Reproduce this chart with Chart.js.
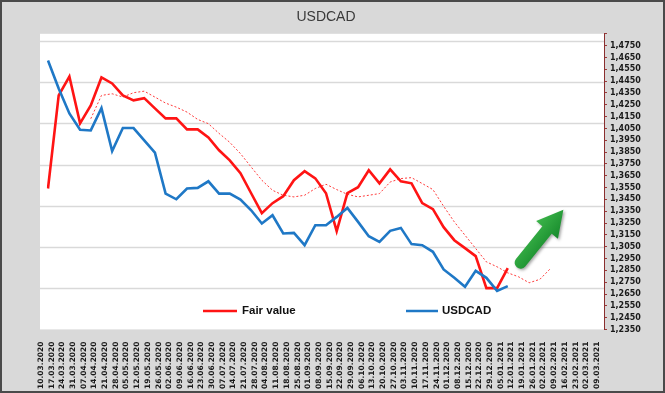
<!DOCTYPE html>
<html>
<head>
<meta charset="utf-8">
<script src="https://cdn.jsdelivr.net/npm/chart.js@4"></script>
<style>
html,body{margin:0;padding:0;background:#d9d9d9;}
canvas{display:block;}
</style>
</head>
<body>
<canvas id="c" width="665" height="393"></canvas>
<script>
const categories = [
  "10.03.2020","17.03.2020","24.03.2020","31.03.2020","07.04.2020","14.04.2020","21.04.2020","28.04.2020",
  "05.05.2020","12.05.2020","19.05.2020","26.05.2020","02.06.2020","09.06.2020","16.06.2020","23.06.2020",
  "30.06.2020","07.07.2020","14.07.2020","21.07.2020","28.07.2020","04.08.2020","11.08.2020","18.08.2020",
  "25.08.2020","01.09.2020","08.09.2020","15.09.2020","22.09.2020","29.09.2020","06.10.2020","13.10.2020",
  "20.10.2020","27.10.2020","03.11.2020","10.11.2020","17.11.2020","24.11.2020","01.12.2020","08.12.2020",
  "15.12.2020","22.12.2020","29.12.2020","05.01.2021","12.01.2021","19.01.2021","26.01.2021","02.02.2021",
  "09.02.2021","16.02.2021","23.02.2021","02.03.2021","09.03.2021"
];

const fairValue = [
  1.3542,1.4329,1.4489,1.4093,1.4245,1.4481,1.4430,1.4329,1.4287,1.4306,
  1.4219,1.4135,1.4135,1.4042,1.4042,1.3974,1.3865,1.3780,1.3671,1.3502,
  1.3333,1.3418,1.3477,1.3612,1.3688,1.3628,1.3502,1.3181,1.3502,1.3553,
  1.3696,1.3586,1.3704,1.3603,1.3586,1.3418,1.3367,1.3215,1.3105,1.3038,
  1.2970,1.2700,1.2700,1.2869
];

const usdcad = [
  1.4624,1.4388,1.4177,1.4039,1.4033,1.4222,1.3859,1.4053,1.4053,1.3949,
  1.3845,1.3499,1.3451,1.3542,1.3547,1.3603,1.3499,1.3499,1.3449,1.3358,
  1.3246,1.3316,1.3162,1.3167,1.3063,1.3232,1.3232,1.3302,1.3378,1.3260,
  1.3139,1.3091,1.3184,1.3209,1.3072,1.3063,1.3007,1.2858,1.2787,1.2711,
  1.2846,1.2787,1.2677,1.2717
];

const fairValueTrend = [
  null,null,null,null,
  1.4132,1.4329,1.4343,1.4315,1.4352,1.4365,1.4315,1.4264,1.4230,1.4188,
  1.4126,1.4090,1.4008,1.3932,1.3837,1.3724,1.3612,1.3527,1.3485,1.3471,
  1.3485,1.3542,1.3578,1.3533,1.3493,1.3471,1.3485,1.3499,1.3597,1.3626,
  1.3634,1.3584,1.3533,1.3392,1.3260,1.3147,1.3035,1.2922,1.2880,1.2829,
  1.2796,1.2745,1.2774,1.2866
];

const yMin = 1.235, yMax = 1.485, yStep = 0.01, yLastLabel = 1.475;
const gridBands = [0, 1, 2, 3, 4, 5, 6, 7];
const trendArrow = { from: [44.2, 1.2915], to: [48.2, 1.3363] };

const decorPlugin = {
  id: 'decor',
  beforeDraw(chart) {
    const { ctx, chartArea: ca, scales } = chart;
    const W = chart.width, H = chart.height;
    ctx.save();
    ctx.fillStyle = '#d9d9d9';
    ctx.fillRect(0, 0, W, H);
    const plotLeft = ca.left - 8;
    ctx.fillStyle = '#ffffff';
    ctx.fillRect(plotLeft, ca.top, ca.right - plotLeft, ca.bottom - ca.top);
    const g = scales.grid;
    ctx.strokeStyle = '#d9d9d9';
    ctx.lineWidth = 1.3;
    gridBands.forEach(v => {
      const y = Math.round(g.getPixelForValue(v)) + 0.5;
      ctx.beginPath();
      ctx.moveTo(plotLeft, y);
      ctx.lineTo(ca.right, y);
      ctx.stroke();
    });
    ctx.strokeStyle = '#4a4a4a';
    ctx.lineWidth = 2;
    ctx.strokeRect(1, 1, W - 2, H - 2);
    ctx.restore();
  },
  afterDatasetsDraw(chart) {
    const { ctx, scales } = chart;
    const xs = scales.x, ys = scales.y;
    // arrow
    const x1 = xs.getPixelForValue(trendArrow.from[0]), y1 = ys.getPixelForValue(trendArrow.from[1]);
    const x2 = xs.getPixelForValue(trendArrow.to[0]), y2 = ys.getPixelForValue(trendArrow.to[1]);
    const ang = Math.atan2(y2 - y1, x2 - x1);
    const len = Math.hypot(x2 - x1, y2 - y1);
    const shaft = 12, headW = 28, headL = 26;
    ctx.save();
    ctx.translate(x1, y1);
    ctx.rotate(ang);
    ctx.shadowColor = 'rgba(0,0,0,0.35)';
    ctx.shadowBlur = 3;
    ctx.shadowOffsetX = 1.5;
    ctx.shadowOffsetY = 1.5;
    const grad = ctx.createLinearGradient(0, -headW / 2, 0, headW / 2);
    grad.addColorStop(0, '#3cb54a');
    grad.addColorStop(1, '#178a2c');
    ctx.fillStyle = grad;
    ctx.beginPath();
    ctx.moveTo(0, -shaft / 2);
    ctx.lineTo(len - headL, -shaft / 2);
    ctx.lineTo(len - headL, -headW / 2);
    ctx.lineTo(len, 0);
    ctx.lineTo(len - headL, headW / 2);
    ctx.lineTo(len - headL, shaft / 2);
    ctx.lineTo(0, shaft / 2);
    ctx.arc(0, 0, shaft / 2, Math.PI / 2, Math.PI * 1.5);
    ctx.closePath();
    ctx.fill();
    ctx.restore();

    // legend
    const items = [
      { ds: chart.data.datasets[0], x0: 203, x1: 237, tx: 242 },
      { ds: chart.data.datasets[1], x0: 406, x1: 438, tx: 442 }
    ];
    const ly = 311;
    ctx.save();
    ctx.font = 'bold 11.5px "Liberation Sans", Arial, sans-serif';
    ctx.textBaseline = 'middle';
    ctx.fillStyle = '#111';
    items.forEach(it => {
      ctx.strokeStyle = it.ds.borderColor;
      ctx.lineWidth = 2.5;
      ctx.beginPath();
      ctx.moveTo(it.x0, ly);
      ctx.lineTo(it.x1, ly);
      ctx.stroke();
      ctx.fillText(it.ds.label, it.tx, ly);
    });
    ctx.restore();
  }
};

new Chart(document.getElementById('c'), {
  type: 'line',
  data: {
    labels: categories,
    datasets: [
      { label: 'Fair value', data: fairValue, borderColor: '#ff1414', borderWidth: 2.6, pointRadius: 0, tension: 0, yAxisID: 'y', order: 2 },
      { label: 'USDCAD', data: usdcad, borderColor: '#1f78c6', borderWidth: 2.6, pointRadius: 0, tension: 0, yAxisID: 'y', order: 1 },
      { label: 'Fair value trend', data: fairValueTrend, borderColor: '#ff3b3b', borderWidth: 1, borderDash: [2, 2], pointRadius: 0, tension: 0, yAxisID: 'y', order: 3 }
    ]
  },
  options: {
    responsive: false,
    animation: false,
    devicePixelRatio: 1,
    layout: { padding: { left: 48, right: 0, top: 0, bottom: 0 } },
    plugins: {
      legend: { display: false },
      tooltip: { enabled: false },
      title: {
        display: true,
        text: 'USDCAD',
        fullSize: false,
        color: '#3a3a3a',
        font: { family: '"Liberation Sans", Arial, sans-serif', size: 14, weight: 'normal' },
        padding: { top: 9, bottom: 8 }
      }
    },
    scales: {
      x: {
        type: 'category',
        offset: false,
        grid: { display: false },
        border: { display: false },
        ticks: {
          autoSkip: false,
          maxRotation: 90,
          minRotation: 90,
          padding: 4,
          labelOffset: -7,
          color: '#1a1a1a',
          font: { family: '"DejaVu Sans", Verdana, sans-serif', size: 7.5, weight: 'bold' }
        },
        afterFit(s) { s.height = 63.5; }
      },
      y: {
        type: 'linear',
        position: 'right',
        min: yMin,
        max: yMax,
        grid: { drawOnChartArea: false, drawTicks: true, tickLength: 3, color: '#9b3b3b' },
        border: { display: true, color: '#8a2f2f', width: 1 },
        ticks: {
          stepSize: yStep,
          maxTicksLimit: 100,
          autoSkip: false,
          padding: 3,
          color: '#1a1a1a',
          font: { family: '"DejaVu Sans", Verdana, sans-serif', size: 8, weight: 'bold' },
          callback: v => (v > yLastLabel + 1e-6 ? '' : Number(v).toFixed(4).replace('.', ','))
        },
        afterFit(s) { s.width = 61; }
      },
      grid: {
        type: 'linear',
        display: false,
        position: 'left',
        min: 0,
        max: 7.177
      }
    }
  },
  plugins: [decorPlugin]
});
</script>
</body>
</html>
